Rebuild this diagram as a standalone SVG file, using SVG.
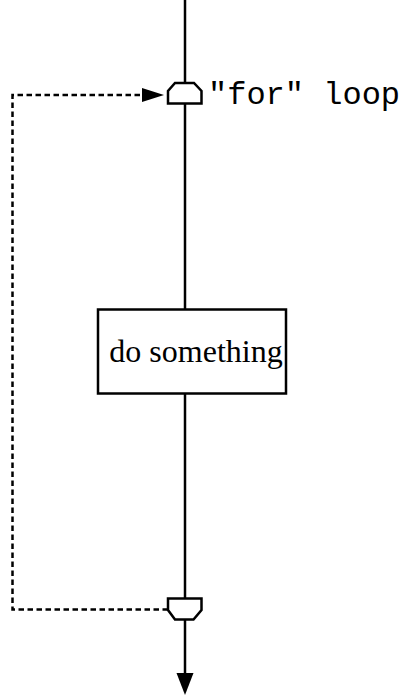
<svg xmlns="http://www.w3.org/2000/svg" width="403" height="696" viewBox="0 0 403 696">
<style>
.ln{stroke:#000;stroke-width:2.5;fill:none}
.dash{stroke:#000;stroke-width:2.5;fill:none;stroke-dasharray:5.5 3.5}
.shp{stroke:#000;stroke-width:2.5;fill:#fff;stroke-linejoin:miter}
.mono{font-family:"Liberation Mono","Courier New",monospace;font-size:32px;fill:#000}
.serif{font-family:"Liberation Serif","Times New Roman",serif;font-size:32px;fill:#000}
</style>
<g id="connectors">
<line class="ln" x1="185" y1="0" x2="185" y2="83"/>
<line class="ln" x1="185" y1="104" x2="185" y2="309"/>
<line class="ln" x1="185" y1="393" x2="185" y2="598"/>
<line class="ln" x1="185" y1="620" x2="185" y2="674"/>
<path d="M176.5,673L193.5,673L185,695z" fill="#000"/>
<path class="dash" d="M168,609.5H12.5V95H143"/>
<path d="M142,88L164,95L142,102z" fill="#000"/>
</g>
<g id="loop-start">
<path class="shp" d="M175,83H194L201.5,91V103.5H168V91z"/>
<text class="mono" x="208" y="104">"for" loop</text>
</g>
<g id="do-something">
<rect class="shp" x="98" y="309.5" width="188" height="84"/>
<text class="serif" x="196" y="362" text-anchor="middle">do something</text>
</g>
<g id="loop-end">
<path class="shp" d="M168,598.5H201.5V610L193.5,619.5H175L168,610z"/>
</g>
</svg>
